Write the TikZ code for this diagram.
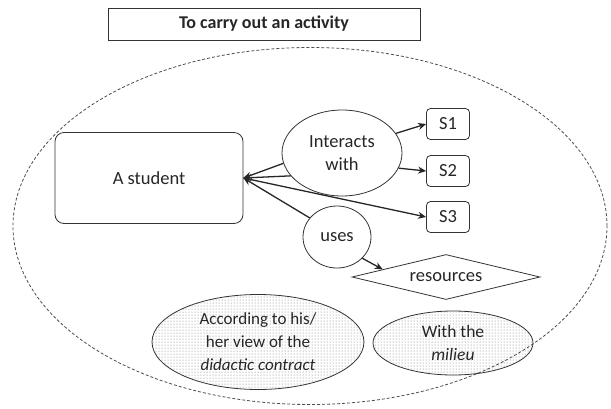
\documentclass[tikz,border=0pt]{standalone}
\usepackage{fontspec}
\setmainfont{Carlito}
\usetikzlibrary{shapes.geometric,arrows.meta,patterns,calc}
\begin{document}
\begin{tikzpicture}[x=1pt,y=-1pt,
  font=\fontsize{18.5}{23}\selectfont,
  every node/.style={text=black!85},
  shp/.style={draw=black!80, line width=0.8pt, inner sep=0pt, align=center},
  rbox/.style={shp, rectangle, rounded corners=9pt},
  sbox/.style={shp, rectangle, rounded corners=4pt, minimum width=43pt, minimum height=31pt},
  oval/.style={shp, ellipse},
  dotoval/.style={shp, ellipse, pattern=dots, pattern color=black!55},
  conn/.style={line width=1.3pt, draw=black!85, -{Stealth[length=8pt,width=7pt]}},
  outerline/.style={draw=black!70, line width=0.8pt, dash pattern=on 3pt off 2pt}
]
\useasboundingbox (0,0) rectangle (611,408);

\node[shp, rectangle, minimum width=312pt, minimum height=32pt, font=\fontsize{18}{22}\selectfont\bfseries] (title) at (264,24) {To carry out an activity};

\node[outerline, ellipse, minimum width=594pt, minimum height=357pt, inner sep=0pt] (outer) at (310,226) {};

\node[rbox, minimum width=188pt, minimum height=91pt] (stu) at (149,178) {A student};
\coordinate (stuin) at (stu.east);

\node[oval, minimum width=120pt, minimum height=86pt] (inter) at (342,153) {Interacts\\with};
\node[sbox] (s1) at (448,124) {S1};
\node[sbox] (s2) at (448,171) {S2};
\node[sbox] (s3) at (448,217) {S3};

\node[oval, minimum width=68pt, minimum height=62pt] (uses) at (337,237) {uses};
\node[shp, diamond, shape aspect=4.2, minimum width=188pt, minimum height=45pt] (res) at (446,277) {resources};

\node[dotoval, minimum width=212pt, minimum height=95pt, font=\fontsize{17}{23}\selectfont] (contract) at (258,342) {According to his/\\her view of the\\\textit{didactic contract}};
\node[dotoval, minimum width=160pt, minimum height=64pt, font=\fontsize{17.5}{23}\selectfont] (milieu) at (453,343) {With the\\\textit{milieu}};

\draw[conn] (inter.190) -- (stuin);
\draw[conn] (inter.204) -- (stuin);
\draw[conn] (uses.145) -- (stuin);
\draw[conn] (stuin) -- (s3.west);
\draw[conn] (inter.20) -- (s1.west);
\draw[conn] (inter.-15) -- (s2.west);
\draw[conn] (uses.-40) -- ($(res.west)!0.33!(res.north)$);
\end{tikzpicture}
\end{document}
